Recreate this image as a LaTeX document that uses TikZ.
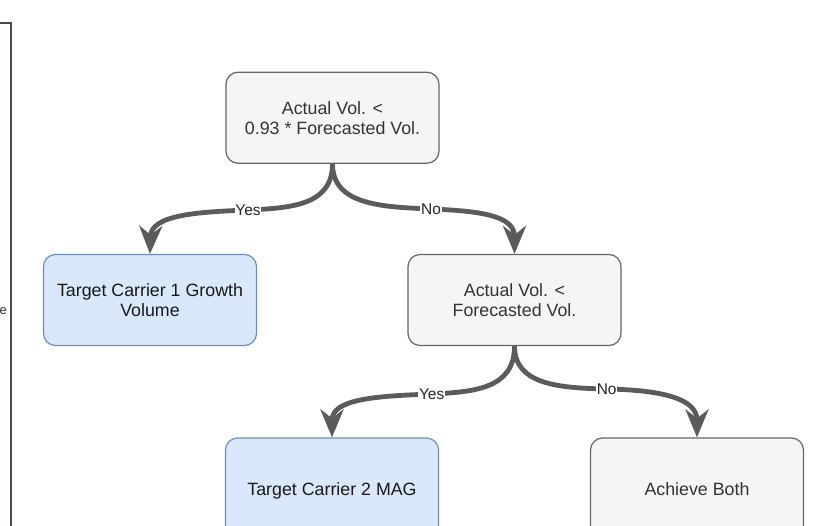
\documentclass[tikz,border=0pt]{standalone}
\usepackage{fontspec}
\setmainfont{Liberation Sans}
\usetikzlibrary{arrows.meta}
\definecolor{grayfill}{HTML}{F5F5F5}
\definecolor{graystroke}{HTML}{666666}
\definecolor{bluefill}{HTML}{DAE8FC}
\definecolor{bluestroke}{HTML}{6C8EBF}
\definecolor{edgecol}{HTML}{5B5B5B}
\definecolor{framecol}{HTML}{414B5E}
\definecolor{textgray}{HTML}{333333}
\begin{document}
\begin{tikzpicture}[x=1pt,y=-1pt,
  box/.style={rounded corners=12pt, minimum width=213pt, minimum height=91pt, line width=1.2pt, align=center, font=\fontsize{17.8}{20}\selectfont, inner sep=0pt},
  graybox/.style={box, fill=grayfill, draw=graystroke, text=textgray},
  bluebox/.style={box, fill=bluefill, draw=bluestroke, text=black!90},
  oneline/.style={text height=12.8pt, text depth=3.8pt},
  flow/.style={draw=edgecol, line width=4.8pt, -{Stealth[length=28pt,width=23pt,inset=9pt]}},
  lbl/.style={fill=white, inner sep=0.6pt, font=\fontsize{15.5}{16}\selectfont, text=black!85}
]
\clip (0,0) rectangle (835,526);
\fill[white] (0,0) rectangle (835,526);

% cropped frame at left
\draw[framecol, line width=2pt] (0,23) -- (11,23) -- (11,530);
\node[anchor=west, inner sep=0pt, font=\fontsize{13}{14}\selectfont, text=textgray] (cut) at (-0.5,311) {e};

% nodes
\node[graybox] (q1) at (332.5,117.7) {Actual Vol. <\\0.93 * Forecasted Vol.};
\node[bluebox] (t1) at (150,300) {Target Carrier 1 Growth\\Volume};
\node[graybox] (q2) at (514.5,300) {Actual Vol. <\\Forecasted Vol.};
\node[bluebox, oneline, minimum height=106pt] (t2) at (332,491) {Target Carrier 2 MAG};
\node[graybox, oneline, minimum height=106pt] (ab) at (697,491) {Achieve Both};

% connectors
\draw[flow] (q1.south) .. controls (332.5,205) and (292,208) .. (248,210)
  node[lbl] (y1) {Yes}
  .. controls (196,212) and (151,215) .. (t1.north);
\draw[flow] (q1.south) .. controls (332.5,205) and (382,207) .. (431,209)
  node[lbl] (n1) {No}
  .. controls (482,211) and (514.5,216) .. (q2.north);
\draw[flow] (q2.south) .. controls (514.5,388) and (476,392) .. (431.7,394)
  node[lbl] (y2) {Yes}
  .. controls (376,396) and (332,399) .. (t2.north);
\draw[flow] (q2.south) .. controls (514.5,385) and (560,388) .. (606.7,389)
  node[lbl] (n2) {No}
  .. controls (660,390) and (697,398) .. (ab.north);
\end{tikzpicture}
\end{document}
